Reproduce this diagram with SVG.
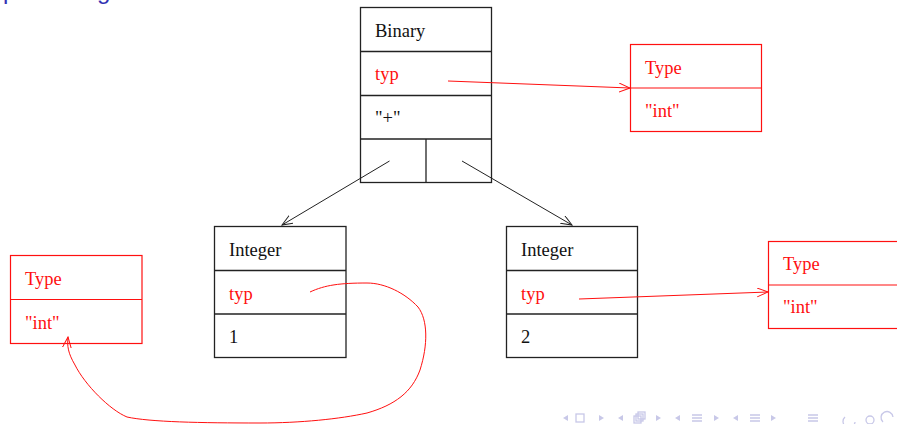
<svg xmlns="http://www.w3.org/2000/svg" width="897" height="424" viewBox="0 0 897 424">
<defs>
<style>
.box{fill:none;stroke:#222;stroke-width:1.3}
.rbox{fill:none;stroke:#ff1010;stroke-width:1.2}
.t{font-family:"Liberation Serif","Times New Roman",serif;font-size:18.5px;fill:#111}
.rt{font-family:"Liberation Serif","Times New Roman",serif;font-size:18.5px;fill:#ff1010}
.blk{fill:none;stroke:#222;stroke-width:1}
.red{fill:none;stroke:#ff1010;stroke-width:1}
.nav{fill:#c8c8e8;stroke:none}
.navs{fill:none;stroke:#c8c8e8;stroke-width:1.3}
.title{font-family:"Liberation Sans",Arial,sans-serif;font-size:24px;fill:#3333b3}
</style>
<marker id="ab" markerWidth="12" markerHeight="10" refX="11" refY="4.5" orient="auto" markerUnits="userSpaceOnUse"><path d="M0,0 L11,4.5 L0,9" fill="none" stroke="#222" stroke-width="1"/></marker>
<marker id="ar" markerWidth="12" markerHeight="10" refX="11" refY="4.5" orient="auto" markerUnits="userSpaceOnUse"><path d="M0,0 L11,4.5 L0,9" fill="none" stroke="#ff1010" stroke-width="1"/></marker>
</defs>
<rect width="897" height="424" fill="#fff"/>
<g id="title">
<text class="title" x="3" y="-1">p</text>
<text class="title" x="97" y="-1">g</text>
</g>
<g id="binary">
<rect class="box" x="360.5" y="7.5" width="131" height="175"/>
<line class="box" x1="360.5" y1="51.5" x2="491.5" y2="51.5"/>
<line class="box" x1="360.5" y1="95.5" x2="491.5" y2="95.5"/>
<line class="box" x1="360.5" y1="139" x2="491.5" y2="139"/>
<line class="box" x1="426" y1="139" x2="426" y2="182.5"/>
<text class="t" x="375" y="37">Binary</text>
<text class="rt" x="375" y="80">typ</text>
<text class="t" x="375" y="124">"+"</text>
</g>
<g id="type-top">
<rect class="rbox" x="630.5" y="44.5" width="131" height="87"/>
<line class="rbox" x1="630.5" y1="88" x2="761.5" y2="88"/>
<text class="rt" x="645" y="74">Type</text>
<text class="rt" x="645" y="117">"int"</text>
</g>
<g id="integer-left">
<rect class="box" x="214.5" y="226.5" width="131.5" height="131"/>
<line class="box" x1="214.5" y1="270.5" x2="346" y2="270.5"/>
<line class="box" x1="214.5" y1="314" x2="346" y2="314"/>
<text class="t" x="229" y="256">Integer</text>
<text class="rt" x="229" y="300">typ</text>
<text class="t" x="229" y="343">1</text>
</g>
<g id="integer-right">
<rect class="box" x="506.5" y="226.5" width="131" height="131"/>
<line class="box" x1="506.5" y1="270.5" x2="637.5" y2="270.5"/>
<line class="box" x1="506.5" y1="314" x2="637.5" y2="314"/>
<text class="t" x="521" y="256">Integer</text>
<text class="rt" x="521" y="300">typ</text>
<text class="t" x="521" y="343">2</text>
</g>
<g id="type-left">
<rect class="rbox" x="10.5" y="255.5" width="131.5" height="88"/>
<line class="rbox" x1="10.5" y1="299.5" x2="142" y2="299.5"/>
<text class="rt" x="25" y="285">Type</text>
<text class="rt" x="25" y="329">"int"</text>
</g>
<g id="type-right">
<rect class="rbox" x="768.5" y="241.5" width="140" height="87"/>
<line class="rbox" x1="768.5" y1="285" x2="900" y2="285"/>
<text class="rt" x="783" y="270">Type</text>
<text class="rt" x="783" y="313">"int"</text>
</g>
<g id="connectors">
<line class="blk" x1="389.5" y1="161" x2="282" y2="225" marker-end="url(#ab)"/>
<line class="blk" x1="462" y1="161" x2="572" y2="225" marker-end="url(#ab)"/>
<line class="red" x1="448" y1="81" x2="630" y2="88" marker-end="url(#ar)"/>
<line class="red" x1="579" y1="299" x2="768" y2="292" marker-end="url(#ar)"/>
<path class="red" d="M310,292 C325,285 340,283 367,283 C385,283 405,293 418,307 C428,320 428,345 420,370 C412,392 395,405 367,413 C340,419 300,423 260,423 C200,423 150,422 127,417 C110,410 85,385 75,365 C68,353 67,346 68,337" marker-end="url(#ar)"/>
</g>
<g id="navigation">
<path class="nav" d="M563,418 L568,415 L568,421 Z"/>
<rect class="navs" x="576" y="414" width="8" height="8"/>
<path class="nav" d="M604,418 L599,415 L599,421 Z"/>
<path class="nav" d="M618,418 L623,415 L623,421 Z"/>
<rect class="navs" x="634" y="416" width="7" height="7"/>
<rect class="navs" x="636" y="414" width="7" height="7"/>
<rect class="navs" x="638" y="412" width="7" height="7"/>
<path class="nav" d="M661,418 L656,415 L656,421 Z"/>
<path class="nav" d="M675,418 L680,415 L680,421 Z"/>
<path class="navs" d="M692,415 H702 M692,418 H702 M692,421 H702"/>
<path class="nav" d="M719,418 L714,415 L714,421 Z"/>
<path class="nav" d="M733,418 L738,415 L738,421 Z"/>
<path class="navs" d="M750,415 H760 M750,418 H760 M750,421 H760"/>
<path class="nav" d="M776,418 L771,415 L771,421 Z"/>
<path class="navs" d="M808,415 H818 M808,418 H818 M808,421 H818"/>
<path class="navs" d="M855,422 A6,6 0 1 1 845,417"/>
<circle class="navs" cx="870" cy="420" r="4"/>
<path class="navs" d="M883,422 A6,6 0 1 1 893,417"/>
</g>
</svg>
